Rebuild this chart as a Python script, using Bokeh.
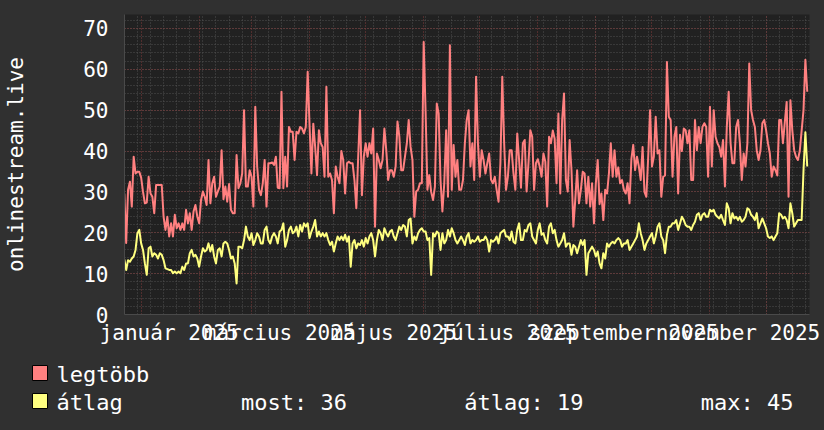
import pandas as pd
from bokeh.plotting import figure
from bokeh.layouts import column
from bokeh.models import (Range1d, FixedTicker, SingleIntervalTicker,
                          ColumnDataSource, GlobalInlineStyleSheet)
from bokeh.core.properties import value
from bokeh.embed import file_html
from bokeh.resources import INLINE

# ---------------- data (daily, starting 2024-12-23) ----------------
start_date = "2024-12-23"

legtobb = [
    29.6, 17.5, 30.5, 32.5, 26.4, 38.6, 34.5, 34.9, 34.9,
    33.5, 30.0, 27.2, 27.4, 33.7, 29.6, 28.8, 24.8, 31.7, 31.7,
    31.7, 31.7, 23.9, 20.7, 23.9, 19.1, 22.3, 19.1, 24.4, 21.1,
    22.3, 20.7, 22.3, 20.7, 25.6, 22.3, 24.8, 20.7, 25.2, 26.8,
    24.0, 22.3, 28.0, 30.1, 28.8, 26.8, 37.8, 27.2, 32.1, 33.7,
    28.8, 30.1, 31.3, 40.2, 28.2, 31.3, 27.6, 31.9, 25.6, 24.8,
    24.8, 39.0, 30.9, 32.1, 34.5, 50.0, 31.3, 31.3, 35.3, 33.7,
    26.4, 50.8, 36.2, 30.5, 29.2, 32.1, 37.8, 26.4, 37.0, 37.0,
    37.2, 36.6, 38.6, 31.0, 30.9, 54.5, 30.9, 38.6, 31.3, 45.9,
    44.7, 44.7, 37.8,
    44.7, 44.3, 45.9, 45.5, 44.3, 45.9, 59.4, 46.3, 34.5, 46.7,
    41.0, 34.1, 45.1, 41.9, 41.0, 33.7, 55.7, 33.7, 34.5, 32.9,
    24.8, 36.2, 33.7, 32.1, 40.0, 37.8, 29.6, 37.0, 37.4, 37.0,
    37.0, 32.9, 26.0, 38.6, 50.0, 29.2, 38.6, 41.9, 38.6, 41.9,
    39.4, 45.5, 21.5, 39.4, 37.8, 35.8, 37.8, 45.5, 40.2, 32.9,
    35.3, 35.3, 33.7, 36.2, 47.2, 43.5, 35.3, 35.3, 38.6, 41.9,
    47.6, 41.0, 37.8, 23.9, 30.1, 30.5, 32.1, 32.1, 66.7, 50.0,
    30.5, 34.1, 30.0, 28.0, 31.3, 51.6, 49.2, 32.9, 25.2, 32.1,
    45.1, 28.8, 65.9, 30.5, 41.5, 33.7, 37.8, 30.5, 30.5, 32.9,
    41.9, 47.6, 50.0,
    36.2, 41.9, 32.9, 58.2, 41.9, 33.7, 40.2, 37.8, 34.5, 37.0,
    39.4, 33.0, 32.1, 33.7, 30.5, 27.6, 37.0, 58.2, 42.0, 30.5,
    33.7, 40.2, 40.2, 34.5, 30.5, 44.3, 37.8, 31.0, 41.9, 42.7,
    30.1, 37.0, 45.1, 43.5, 30.5, 37.0, 38.0, 36.2, 33.7, 39.4,
    37.4, 26.4, 43.5, 41.9, 45.0, 43.0, 32.1, 49.2, 29.6, 47.6,
    54.1, 32.9, 30.1, 42.7, 35.3, 21.5, 28.0, 35.3, 27.2, 30.5,
    34.9, 34.5, 27.2, 33.7, 26.4, 32.1, 22.3, 32.1, 37.8, 27.0,
    29.6, 23.1, 30.5, 29.6, 34.5, 41.9, 33.7, 40.2, 33.7, 36.0,
    32.1, 32.9, 30.5, 29.6, 32.1, 27.2, 38.0, 41.5, 35.3, 38.6,
    36.2, 32.9, 41.0,
    30.0, 28.8, 38.6, 50.0, 36.2, 38.6, 48.4, 39.4, 40.2, 28.8,
    33.7, 34.0, 61.8, 48.4, 47.6, 33.7, 43.5, 45.9, 29.6, 44.0,
    40.0, 45.5, 45.1, 41.9, 45.1, 32.9, 32.9, 47.6, 40.2, 45.9,
    41.9, 45.9, 46.8, 45.9, 33.7, 50.8, 36.2, 50.0, 43.5, 41.9,
    41.0, 38.6, 42.7, 31.3, 45.9, 54.5, 42.0, 37.0, 37.0, 45.9,
    47.6, 41.9, 32.9, 39.4, 36.2, 41.9, 61.4, 50.0, 47.6, 45.9,
    40.2, 37.8, 40.2, 46.8, 47.6, 45.1, 41.9, 39.4, 33.7, 36.2,
    35.3, 34.0, 47.6, 47.6, 41.9, 47.0, 52.0, 28.8, 52.4, 45.1,
    40.2, 38.6, 37.8, 40.0, 45.0, 50.0, 62.3, 54.5,
]

atlag = [
    13.5, 10.9, 13.3, 12.9, 13.7, 14.2, 15.8, 19.9, 20.7,
    17.4, 15.8, 12.5, 9.7, 16.2, 16.6, 14.2, 15.0, 14.6, 13.7,
    15.0, 14.6, 13.3, 11.3, 11.1, 10.9, 10.9, 10.1, 10.5, 10.1,
    10.5, 10.1, 11.7, 10.9, 12.5, 12.5, 15.0, 15.8, 14.2, 14.6,
    13.7, 11.7, 14.2, 16.2, 15.4, 15.8, 17.4, 15.4, 17.0, 14.2,
    12.5, 15.8, 16.2, 14.2, 17.4, 17.8, 17.4, 15.8, 13.7, 14.2,
    12.5, 7.6, 16.6, 16.6, 16.2, 18.2, 21.5, 19.1, 18.2, 19.9,
    17.0, 18.2, 19.9, 19.1, 17.4, 17.4, 20.7, 21.5, 18.2, 17.4,
    19.1, 19.9, 19.1, 17.4, 20.3, 20.7, 22.3, 16.6, 18.2, 20.7,
    21.5, 19.9, 20.3,
    21.5, 19.1, 21.9, 20.3, 22.3, 21.5, 22.3, 18.7, 20.3, 21.5,
    23.1, 19.1, 20.3, 19.1, 19.9, 19.1, 19.9, 18.2, 17.0, 17.8,
    15.4, 17.4, 19.1, 18.2, 19.1, 18.2, 19.5, 17.8, 19.1, 11.7,
    17.4, 18.2, 16.2, 17.4, 17.0, 18.2, 16.6, 18.7, 17.4, 19.1,
    19.9, 18.2, 14.2, 18.2, 20.7, 19.9, 18.2, 21.1, 19.9, 19.1,
    20.3, 20.7, 19.1, 18.2, 19.9, 21.5, 20.7, 21.9, 21.5, 19.1,
    23.1, 23.5, 17.4, 19.1, 18.2, 19.9, 20.7, 21.1, 20.3, 20.3,
    18.2, 18.7, 9.7, 19.9, 19.1, 20.3, 19.9, 15.8, 19.9, 17.4,
    18.2, 20.7, 19.1, 21.1, 19.9, 18.2, 17.4, 18.2, 19.1, 18.2,
    17.0, 19.1, 19.9,
    17.4, 18.2, 17.8, 18.2, 19.1, 17.8, 18.2, 18.2, 19.1, 18.2,
    15.4, 18.2, 17.8, 18.2, 19.1, 17.4, 19.9, 20.3, 20.7, 19.1,
    19.1, 18.2, 20.3, 17.8, 17.4, 20.7, 22.3, 18.2, 18.2, 20.7,
    20.3, 21.9, 22.3, 19.1, 18.2, 17.4, 20.7, 22.3, 19.5, 19.9,
    18.2, 17.4, 21.5, 22.3, 19.9, 20.7, 18.2, 16.6, 17.4, 18.2,
    19.9, 16.6, 17.4, 17.4, 14.6, 17.0, 16.6, 15.0, 16.6, 18.2,
    17.0, 18.2, 9.7, 15.0, 15.8, 16.6, 15.8, 14.2, 15.4, 12.5,
    11.3, 15.0, 13.7, 17.4, 16.6, 17.4, 17.8, 17.4, 18.2, 18.7,
    18.2, 16.6, 17.4, 17.4, 18.2, 15.8, 16.6, 17.4, 18.2, 19.1,
    22.3, 19.9, 18.2,
    15.8, 17.4, 18.2, 19.1, 19.9, 17.4, 19.1, 21.5, 22.3, 19.1,
    18.2, 15.0, 19.5, 21.5, 21.5, 22.3, 22.3, 23.1, 20.7, 22.3,
    23.9, 23.1, 21.9, 21.5, 21.5, 20.7, 21.9, 22.7, 24.4, 24.8,
    23.1, 24.4, 24.8, 23.9, 23.9, 25.6, 25.2, 25.6, 24.4, 23.9,
    23.5, 24.4, 23.1, 21.9, 27.2, 26.0, 22.3, 24.8, 23.5, 23.9,
    23.1, 23.9, 22.7, 23.1, 23.9, 26.0, 25.6, 24.4, 23.9, 23.1,
    24.8, 21.1, 22.3, 23.5, 22.3, 21.1, 19.1, 18.7, 19.1, 18.2,
    19.1, 19.9, 24.8, 24.4, 23.5, 23.9, 23.1, 21.1, 27.2, 24.8,
    21.5, 22.3, 23.1, 23.1, 23.1, 35.3, 44.6, 36.2,
]

series_names = ["legtöbb", "átlag"]
series_colors = ["#ff8080", "#ffff80"]

label_months = ["2025-01-01", "2025-03-01", "2025-05-01",
                "2025-07-01", "2025-09-01", "2025-11-01"]
month_labels = ["január 2025", "március 2025", "május 2025",
                "július 2025", "szeptember 2025", "november 2025"]

stat_labels = ["most: 36", "átlag: 19", "max: 45"]

y_title = "onlinestream.live"

# ---------------- styling constants ----------------
FONT = "DejaVu Sans Mono"
BG = "#303030"
PLOT_BG = "#212121"
W = 824
MAIN_H = 352
LEG_H = 430 - MAIN_H


def ms(ts):
    return pd.Timestamp(ts).value / 1e6


dates = pd.date_range(start_date, periods=len(legtobb), freq="D")
src = ColumnDataSource(dict(date=dates, legtobb=legtobb, atlag=atlag))

x_start = pd.Timestamp("2024-12-23 02:24")
x_end = pd.Timestamp("2025-12-24 04:48")

p = figure(width=W, height=MAIN_H, x_axis_type="datetime",
           x_range=Range1d(x_start, x_end), y_range=Range1d(0, 73.4),
           output_backend="svg", toolbar_location=None,
           background_fill_color=PLOT_BG, border_fill_color=BG,
           min_border_left=124, min_border_right=15,
           min_border_top=14, min_border_bottom=MAIN_H - 314)
p.outline_line_color = None
p.frame_align = False
p.stylesheets = [GlobalInlineStyleSheet(css="body { background: %s; }" % BG)]

# grids: monthly major (red), weekly minor (grey); y major 10, minor 2
month_starts = [ms(t) for t in pd.date_range("2025-01-01", "2025-12-01", freq="MS")]
mondays = [ms(t) for t in pd.date_range("2024-12-23", "2025-12-22", freq="7D")]
p.xgrid.ticker = FixedTicker(ticks=month_starts, minor_ticks=mondays)
for g in (p.xgrid[0], p.ygrid[0]):
    g.grid_line_color = "#823c3c"
    g.grid_line_dash = "1 2"
    g.grid_line_width = 1
    g.minor_grid_line_color = "#505050"
    g.minor_grid_line_dash = "1 2"
    g.minor_grid_line_width = 1

# axes
label_ticks = [ms(pd.Timestamp(m) + pd.Timedelta(days=15)) for m in label_months]
p.xaxis.ticker = FixedTicker(ticks=label_ticks)
p.xaxis.major_label_overrides = {t: lab for t, lab in zip(label_ticks, month_labels)}
p.yaxis.ticker = SingleIntervalTicker(interval=10, num_minor_ticks=5)

for ax in (p.xaxis[0], p.yaxis[0]):
    ax.major_label_text_font = FONT
    ax.major_label_text_font_size = "21px"
    ax.major_label_text_color = "#ffffff"
    ax.major_tick_line_color = None
    ax.minor_tick_line_color = None
    ax.major_tick_out = 0
    ax.minor_tick_out = 0
    ax.axis_line_color = "#4a4a4a"
p.yaxis.major_label_standoff = 16
p.xaxis.major_label_standoff = 6
p.yaxis.axis_label = y_title
p.yaxis.axis_label_text_font = FONT
p.yaxis.axis_label_text_font_size = "21px"
p.yaxis.axis_label_text_font_style = "normal"
p.yaxis.axis_label_text_color = "#ffffff"
p.yaxis.axis_label_standoff = 52

# lines
p.line("date", "legtobb", source=src, line_color=series_colors[0],
       line_width=2, line_join="round")
p.line("date", "atlag", source=src, line_color=series_colors[1],
       line_width=2, line_join="round")

# ---------------- legend strip (pixel-like coordinates) ----------------
leg = figure(width=W, height=LEG_H, x_range=Range1d(0, W), y_range=Range1d(LEG_H, 0),
             x_axis_location=None, y_axis_location=None,
             output_backend="svg", toolbar_location=None,
             background_fill_color=BG, border_fill_color=BG, min_border=0)
leg.outline_line_color = None
leg.frame_align = False
leg.grid.visible = False

ROW0, PITCH, SW, SX = 13, 28, 15, 32
BASE = 9   # text baseline offset from the swatch top
rows = list(range(len(series_names)))
sw_src = ColumnDataSource(dict(
    left=[SX] * len(rows), right=[SX + SW] * len(rows),
    top=[ROW0 + PITCH * r for r in rows],
    bottom=[ROW0 + PITCH * r + SW for r in rows],
    color=series_colors))
leg.quad(left="left", right="right", top="top", bottom="bottom",
         fill_color="color", line_color="#000000", line_width=1, source=sw_src)

name_src = ColumnDataSource(dict(x=[56] * len(rows),
                                 y=[ROW0 + BASE + PITCH * r for r in rows],
                                 text=series_names))
leg.text(x="x", y="y", text="text", source=name_src,
         text_font=value(FONT), text_font_size="22px", text_color="#ffffff",
         text_baseline="alphabetic")

stat_src = ColumnDataSource(dict(x=[240.5, 463.8, 700.3],
                                 y=[ROW0 + BASE + PITCH] * len(stat_labels),
                                 text=stat_labels))
leg.text(x="x", y="y", text="text", source=stat_src,
         text_font=value(FONT), text_font_size="22px", text_color="#ffffff",
         text_baseline="alphabetic")

layout = column(p, leg, spacing=0)

open("out.html", "w").write(file_html(layout, INLINE))
